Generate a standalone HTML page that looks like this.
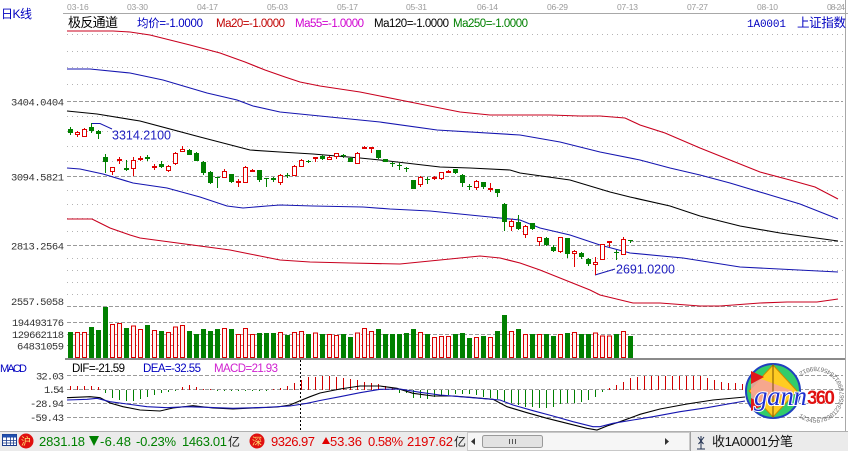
<!DOCTYPE html>
<html><head><meta charset="utf-8"><style>
html,body{margin:0;padding:0;background:#fff;width:848px;height:451px;overflow:hidden}
svg{display:block}
</style></head><body>
<svg width="848" height="451" viewBox="0 0 848 451" xmlns="http://www.w3.org/2000/svg" font-family="'Liberation Sans','Noto Sans CJK SC',sans-serif">
<rect width="848" height="451" fill="#fff"/>
<!-- top separator -->
<line x1="63" y1="13.5" x2="848" y2="13.5" stroke="#a8a8a8"/>
<line x1="845.5" y1="0" x2="845.5" y2="431" stroke="#a8a8a8"/>
<!-- date labels -->
<g font-size="8.5" fill="#9a9a9a">
<text x="67" y="10">03-16</text>
<text x="127" y="10" textLength="21">03-30</text>
<text x="197" y="10" textLength="21">04-17</text>
<text x="267" y="10" textLength="21">05-03</text>
<text x="337" y="10" textLength="21">05-17</text>
<text x="406" y="10" textLength="21">05-31</text>
<text x="477" y="10" textLength="21">06-14</text>
<text x="547" y="10" textLength="21">06-29</text>
<text x="617" y="10" textLength="21">07-13</text>
<text x="687" y="10" textLength="21">07-27</text>
<text x="757" y="10" textLength="21">08-10</text>
<text x="827" y="10" textLength="18">08-24</text>
</g>
<!-- header -->
<text x="1" y="18" font-size="12" fill="#0000c0" textLength="31">日K线</text>
<text x="68" y="27" font-size="13" fill="#000" textLength="50">极反通道</text>
<g font-size="11.5">
<text x="137" y="27" fill="#0000c0" textLength="66">均价=-1.0000</text>
<text x="216" y="27" fill="#c00000" textLength="69">Ma20=-1.0000</text>
<text x="295" y="27" fill="#d000d0" textLength="69">Ma55=-1.0000</text>
<text x="374" y="27" fill="#000" textLength="75">Ma120=-1.0000</text>
<text x="453" y="27" fill="#008000" textLength="75">Ma250=-1.0000</text>
</g>
<text x="747" y="27" font-family="'Liberation Mono',monospace" font-size="11" fill="#0000c0" textLength="39">1A0001</text>
<text x="797" y="27" font-size="12.5" fill="#0000c0" textLength="49">上证指数</text>

<!-- grid dotted -->
<g stroke="#b4b4b4" stroke-dasharray="1 4">
<path d="M67 34.5H843M67 51.5H843M67 67.5H843M67 84.5H843M67 116.5H843M67 131.5H843M67 146.5H843M67 161.5H843M67 190.5H843M67 204.5H843M67 218.5H843M67 231.5H843M67 258.5H843M67 270.5H843M67 282.5H843M67 294.5H843"/>
</g>
<!-- grid dashed -->
<g stroke="#9a9a9a" stroke-dasharray="4 2">
<path d="M67 101.5H843M67 176.5H843M67 245.5H843M67 306.5H843M67 322.5H843M67 334.5H843M67 345.5H843M67 375.5H843M67 389.5H843M67 403.5H843M67 417.5H843"/>
<path d="M630 241.5H843"/>
</g>

<!-- axis labels -->
<g font-family="'Liberation Mono',monospace" font-size="10.5" fill="#333" text-anchor="end">
<text x="64" y="105.5" textLength="53">3404.0404</text>
<text x="64" y="180.5" textLength="53">3094.5821</text>
<text x="64" y="249.5" textLength="53">2813.2564</text>
<text x="64" y="305" textLength="53">2557.5058</text>
<text x="64" y="326" textLength="52">194493176</text>
<text x="64" y="338" textLength="52">129662118</text>
<text x="64" y="349.5" textLength="47">64831059</text>
<text x="64" y="379.5" textLength="28">32.03</text>
<text x="64" y="393" textLength="20">1.54</text>
<text x="64" y="407" textLength="34">-28.94</text>
<text x="64" y="421" textLength="34">-59.43</text>
</g>

<!-- channel lines -->
<g fill="none" stroke-width="1.1">
<polyline stroke="#c8001e" points="67,31 113,31 130,32 150,35 170,40 190,45 220,53 245,62 265,70 285,77 300,82 320,86 340,89 360,92 380,96 400,100 430,106 460,112 490,115 520,115 550,115 580,116 600,116 625,118 640,125 665,133 700,148 730,160 760,172 790,180 815,187 838,199"/>
<polyline stroke="#1515b0" points="67,69 90,69 130,73 163,80 207,93 237,100 253,106 280,112 330,117 380,122 437,130 520,135 560,142 600,152 640,160 670,168 700,175 730,183 770,195 800,204 838,219"/>
<polyline stroke="#000" points="67,111 97,114 140,121 200,137 250,150 280,152 313,154 360,158 380,160 440,167 470,168 510,170 520,173 570,180 610,192 630,197 670,206 700,216 740,226 780,233 838,241"/>
<polyline stroke="#1515b0" points="67,168 80,169 103,174 133,183 167,188 200,197 227,206 243,208 267,206 280,205 313,206 363,207 390,209 430,211 470,215 490,217 520,220 540,228 570,235 600,245 630,253 683,258 740,267 838,272"/>
<polyline stroke="#c8001e" points="67,219 92,219 100,223 110,228 130,235 140,238 170,242 200,246 230,250 260,256 280,260 310,262 350,263 400,264 440,260 470,257 480,256 500,258 520,263 540,270 560,278 590,290 600,295 633,303 660,303 700,306 720,306 760,303 787,302 817,302 838,299"/>
</g>

<!-- annotations -->
<polyline fill="none" stroke="#1515b0" points="92,123.5 100,123.5 112,129"/>
<text x="112" y="139.5" font-size="12.5" fill="#2020c0" textLength="59">3314.2100</text>
<polyline fill="none" stroke="#1515b0" points="595,275 615,269"/>
<text x="616" y="273.5" font-size="12.5" fill="#2020c0" textLength="59">2691.0200</text>

<!-- candles green -->
<path fill="none" stroke="#008000" d="M70.5 127V135M91.5 123V133M98.5 130V139M105.5 154V173M126.5 160V171M147.5 155V161M161.5 161V168M189.5 149V155M196.5 152V161M203.5 161V175M210.5 171V184M217.5 177V188M231.5 174V183M259.5 170V182M266.5 178V187M273.5 177V182M287.5 173V178M308.5 160V163M322.5 155V160M343.5 154V158M350.5 157V162M378.5 150V159M385.5 159V162M392.5 162V167M399.5 163V170M406.5 167V172M413.5 180V189M427.5 177V184M455.5 169V174M462.5 174V187M469.5 184V190M483.5 182V189M497.5 189V197M504.5 203V231M518.5 215V230M532.5 223V230M546.5 237V246M553.5 245V252M567.5 238V258M581.5 252V259M588.5 258V266M616.5 250V260M630.5 240V243"/>
<path fill="#008000" d="M68 129h5V133h-5zM89 127h5V131h-5zM96 131h5V134h-5zM103 157h5V162h-5zM124 168h5V170h-5zM145 157h5V159h-5zM159 164h5V167h-5zM187 150h5V155h-5zM194 153h5V161h-5zM201 162h5V173h-5zM208 172h5V183h-5zM215 177h5V178h-5zM229 174h5V182h-5zM257 170h5V180h-5zM264 178h5V179h-5zM271 178h5V180h-5zM285 175h5V176h-5zM306 161h5V162h-5zM320 156h5V159h-5zM341 155h5V156h-5zM348 158h5V162h-5zM376 150h5V158h-5zM383 159h5V162h-5zM390 163h5V164h-5zM397 165h5V166h-5zM404 168h5V169h-5zM411 180h5V189h-5zM425 179h5V180h-5zM453 169h5V173h-5zM460 175h5V183h-5zM467 186h5V187h-5zM481 182h5V187h-5zM495 189h5V193h-5zM502 204h5V222h-5zM516 222h5V229h-5zM530 223h5V229h-5zM544 238h5V245h-5zM551 247h5V251h-5zM565 238h5V254h-5zM579 253h5V257h-5zM586 259h5V264h-5zM614 252h5V253h-5zM628 240h5V241h-5z"/>
<!-- candles red -->
<path fill="none" stroke="#e00000" d="M77.5 131V137M84.5 128V137M112.5 167V175M119.5 157V164M133.5 157V176M140.5 156V161M154.5 164V170M168.5 165V172M175.5 152V165M182.5 146V151M224.5 169V178M238.5 179V187M245.5 166V183M252.5 169V172M280.5 174V185M294.5 165V176M301.5 159V167M315.5 157V162M329.5 156V160M336.5 153V159M357.5 152V163M364.5 146V149M371.5 147V153M420.5 176V187M434.5 176V180M441.5 172V180M448.5 170V173M476.5 180V190M490.5 183V192M511.5 219V231M525.5 225V238M539.5 237V246M560.5 237V253M574.5 250V267M595.5 257V275M602.5 244V260M609.5 241V247M623.5 237V255"/>
<path fill="#fff" stroke="#e00000" d="M75.5 132.5h4V134.5h-4zM82.5 129.5h4V136.5h-4zM110.5 167.5h4V171.5h-4zM117.5 159.5h4V160.5h-4zM131.5 160.5h4V168.5h-4zM138.5 158.5h4V159.5h-4zM152.5 166.5h4V167.5h-4zM166.5 166.5h4V170.5h-4zM173.5 153.5h4V163.5h-4zM180.5 149.5h4V151.5h-4zM222.5 171.5h4V177.5h-4zM236.5 181.5h4V182.5h-4zM243.5 167.5h4V182.5h-4zM250.5 170.5h4V171.5h-4zM278.5 175.5h4V182.5h-4zM292.5 166.5h4V175.5h-4zM299.5 160.5h4V166.5h-4zM313.5 157.5h4V158.5h-4zM327.5 157.5h4V159.5h-4zM334.5 153.5h4V156.5h-4zM355.5 153.5h4V163.5h-4zM362.5 147.5h4V148.5h-4zM369.5 147.5h4V148.5h-4zM418.5 177.5h4V184.5h-4zM432.5 177.5h4V178.5h-4zM439.5 172.5h4V178.5h-4zM446.5 171.5h4V172.5h-4zM474.5 181.5h4V187.5h-4zM488.5 188.5h4V189.5h-4zM509.5 221.5h4V226.5h-4zM523.5 226.5h4V234.5h-4zM537.5 237.5h4V241.5h-4zM558.5 237.5h4V251.5h-4zM572.5 251.5h4V253.5h-4zM593.5 262.5h4V264.5h-4zM600.5 244.5h4V259.5h-4zM607.5 241.5h4V242.5h-4zM621.5 239.5h4V254.5h-4z"/>

<!-- volume -->
<path fill="#008000" d="M68 332h5V358h-5zM89 327h5V358h-5zM96 330h5V358h-5zM103 307h5V358h-5zM124 328h5V358h-5zM145 325h5V358h-5zM159 331h5V358h-5zM187 331h5V358h-5zM194 334h5V358h-5zM201 329h5V358h-5zM208 331h5V358h-5zM215 329h5V358h-5zM229 329h5V358h-5zM257 333h5V358h-5zM264 333h5V358h-5zM271 333h5V358h-5zM285 335h5V358h-5zM306 334h5V358h-5zM320 334h5V358h-5zM341 334h5V358h-5zM348 337h5V358h-5zM376 329h5V358h-5zM383 334h5V358h-5zM390 334h5V358h-5zM397 334h5V358h-5zM404 333h5V358h-5zM411 329h5V358h-5zM425 334h5V358h-5zM453 334h5V358h-5zM460 333h5V358h-5zM467 338h5V358h-5zM481 336h5V358h-5zM495 331h5V358h-5zM502 315h5V358h-5zM516 329h5V358h-5zM530 334h5V358h-5zM544 334h5V358h-5zM551 336h5V358h-5zM565 333h5V358h-5zM579 334h5V358h-5zM586 334h5V358h-5zM614 334h5V358h-5zM628 336h5V358h-5z"/>
<path fill="#fff0f0" stroke="#d80000" d="M75.5 332.5h4V357.5h-4zM82.5 332.5h4V357.5h-4zM110.5 324.5h4V357.5h-4zM117.5 323.5h4V357.5h-4zM131.5 326h4V357.5h-4zM138.5 329.5h4V357.5h-4zM152.5 330.5h4V357.5h-4zM166.5 332.5h4V357.5h-4zM173.5 327h4V357.5h-4zM180.5 325.5h4V357.5h-4zM222.5 328.5h4V357.5h-4zM236.5 334.5h4V357.5h-4zM243.5 328.5h4V357.5h-4zM250.5 334.5h4V357.5h-4zM278.5 332.5h4V357.5h-4zM292.5 332.5h4V357.5h-4zM299.5 331.5h4V357.5h-4zM313.5 333h4V357.5h-4zM327.5 334.5h4V357.5h-4zM334.5 335.5h4V357.5h-4zM355.5 333h4V357.5h-4zM362.5 328.5h4V357.5h-4zM369.5 331.5h4V357.5h-4zM418.5 332.5h4V357.5h-4zM432.5 337.5h4V357.5h-4zM439.5 336.5h4V357.5h-4zM446.5 336.5h4V357.5h-4zM474.5 337.5h4V357.5h-4zM488.5 337.5h4V357.5h-4zM509.5 331.5h4V357.5h-4zM523.5 334.5h4V357.5h-4zM537.5 334.5h4V357.5h-4zM558.5 334.5h4V357.5h-4zM572.5 332.5h4V357.5h-4zM593.5 333h4V357.5h-4zM600.5 336h4V357.5h-4zM607.5 336h4V357.5h-4zM621.5 331.5h4V357.5h-4z"/>
<!-- separator -->
<rect x="65" y="358" width="780" height="2" fill="#8a8a8a"/>

<!-- MACD texts -->
<text x="0" y="372" font-size="11" fill="#0000c0" textLength="27">MACD</text>
<text x="72" y="372" font-size="11.5" fill="#000" textLength="53">DIF=-21.59</text>
<text x="143" y="372" font-size="11.5" fill="#0000c0" textLength="58">DEA=-32.55</text>
<text x="214" y="372" font-size="11.5" fill="#d020d0" textLength="64">MACD=21.93</text>

<!-- MACD histogram -->
<path fill="none" stroke="#d00000" d="M70.5 390V386M77.5 390V386M84.5 390V386M91.5 390V386M98.5 390V387M182.5 390V387M189.5 390V385M196.5 390V387M203.5 390V389M210.5 390V389M273.5 390V389M280.5 390V388M287.5 390V386M294.5 390V383M301.5 390V380M308.5 390V377M315.5 390V377M322.5 390V376M329.5 390V376M336.5 390V377M343.5 390V378M350.5 390V379M357.5 390V380M364.5 390V382M371.5 390V383M378.5 390V384M385.5 390V386M392.5 390V388M609.5 390V388M616.5 390V385M623.5 390V382M630.5 390V378M637.5 390V377M644.5 390V376M651.5 390V376M658.5 390V376M665.5 390V376M672.5 390V376M679.5 390V376M686.5 390V376M693.5 390V376M700.5 390V376M707.5 390V378M714.5 390V380M721.5 390V382M728.5 390V383M735.5 390V383M742.5 390V384"/>
<path fill="none" stroke="#008000" d="M105.5 390V393M112.5 390V398M119.5 390V400M126.5 390V401M133.5 390V401M140.5 390V399M147.5 390V397M154.5 390V395M161.5 390V393M168.5 390V392M175.5 390V391M217.5 390V391M224.5 390V391M231.5 390V391M238.5 390V391M245.5 390V391M252.5 390V391M259.5 390V391M266.5 390V391M399.5 390V393M406.5 390V393M413.5 390V398M420.5 390V398M427.5 390V399M434.5 390V397M441.5 390V396M448.5 390V395M455.5 390V394M462.5 390V394M469.5 390V394M476.5 390V395M483.5 390V397M490.5 390V398M497.5 390V399M504.5 390V402M511.5 390V403M518.5 390V405M525.5 390V407M532.5 390V407M539.5 390V408M546.5 390V408M553.5 390V407M560.5 390V404M567.5 390V403M574.5 390V403M581.5 390V402M588.5 390V400M595.5 390V397M602.5 390V392"/>
<!-- MACD lines -->
<polyline fill="none" stroke="#000" stroke-width="1.1" points="67,397.7 90,396.7 100,397.7 110,403 123,406.7 140,410 160,411 173,408 193,405.7 213,408 233,409 253,408 277,407 290,405 300,400.7 310,396.7 320,393 340,389 360,386 380,386 397,388.3 413,393.3 433,396 453,396 470,397.3 493,399.3 507,406.7 527,412.7 547,418.3 567,423.3 587,428.3 597,430 607,426 620,421.7 640,414.3 660,409 687,404 713,400 745,397"/>
<polyline fill="none" stroke="#1515b0" stroke-width="1.1" points="67,400 87,399.3 97,398.3 110,401.7 127,404 147,406.7 167,407.7 187,406.7 207,407.3 233,408.3 267,407.3 290,406 307,403.3 320,400.5 340,396.7 360,392.7 380,389.3 400,389 420,392.3 440,395 460,396.7 480,398.3 500,400 513,405 533,410.7 553,416 573,421.7 593,426.7 600,426.7 613,423.3 633,420 653,416.7 680,411.7 707,407.7 745,401"/>
<!-- cursor line -->
<line x1="300.5" y1="360" x2="300.5" y2="431" stroke="#000" stroke-dasharray="2 2"/>

<!-- logo -->
<g>
<circle cx="773" cy="391" r="27" fill="#33cc6a" stroke="#2040c0" stroke-width="2"/>
<polygon points="773,365 797,391 773,417 749,391" fill="#ffcc22" stroke="#c88a00"/>
<polygon points="751,375 793,391 751,407" fill="#f4a0a0" opacity="0.85"/>
<polygon points="751,371 764,377 751,384" fill="#e01818"/>
<polygon points="751,398 764,405 751,411" fill="#e01818"/>
<line x1="773" y1="365" x2="773" y2="417" stroke="#7a5000"/>
<path id="ring" d="M798.3 416.5 A28 28 0 1 0 800.1 371.7" fill="none"/>
<text font-family="'Liberation Mono',monospace" font-size="6.5" fill="#707070"><textPath href="#ring">12345678901234567890123456789012345</textPath></text>
<text x="754" y="405" font-family="'Liberation Serif',serif" font-style="italic" font-size="27" fill="#1e2fd0" stroke="#fff" stroke-width="2" paint-order="stroke" textLength="53">gann</text>
<text x="807" y="404" font-family="'Liberation Sans',sans-serif" font-weight="bold" font-size="19" fill="#e01010" stroke="#fff" stroke-width="1.5" paint-order="stroke" textLength="28">360</text>
</g>

<!-- status bar -->
<rect x="0" y="431" width="848" height="20" fill="#ebebeb"/>
<line x1="0" y1="431.5" x2="848" y2="431.5" stroke="#b0b0b0"/>
<g>
<rect x="2.5" y="434.5" width="14" height="11" fill="#fff" stroke="#1c3c8c"/>
<rect x="2.5" y="434.5" width="14" height="3" fill="#2050b0"/>
<path d="M6.5 437V445M10.5 437V445M13.5 437V445M3 440.5H16M3 443H16" stroke="#1c3c8c" stroke-width="0.8"/>
</g>
<circle cx="26" cy="441" r="7.5" fill="#e01010"/>
<text x="26" y="445" font-size="10" fill="#ffe070" text-anchor="middle">沪</text>
<g font-size="13" fill="#008000">
<text x="39" y="446" textLength="46">2831.18</text>
<polygon points="89,436 99,436 94,446" fill="#008000"/>
<text x="100" y="446" textLength="31">-6.48</text>
<text x="136" y="446" textLength="40">-0.23%</text>
<text x="182" y="446" textLength="45">1463.01</text>
</g>
<text x="228" y="446" font-size="12" fill="#222" textLength="12">亿</text>
<circle cx="257" cy="441" r="7.5" fill="#e01010"/>
<text x="257" y="445" font-size="10" fill="#ffe070" text-anchor="middle">深</text>
<g font-size="13" fill="#e00000">
<text x="271" y="446" textLength="44">9326.97</text>
<polygon points="322,444 330,444 326,437" fill="#e00000"/>
<text x="330" y="446" textLength="32">53.36</text>
<text x="368" y="446" textLength="35">0.58%</text>
<text x="407" y="446" textLength="46">2197.62</text>
</g>
<text x="454" y="446" font-size="12" fill="#222" textLength="11">亿</text>
<!-- scrollbar -->
<rect x="467.5" y="432.5" width="222" height="18" fill="#f6f6f6" stroke="#c8c8c8"/>
<polygon points="475,438 475,445 471,441.5" fill="#333"/>
<rect x="482.5" y="435.5" width="60" height="12" rx="2" fill="#e2e2e2" stroke="#9a9a9a"/>
<path d="M509.5 439V444M512.5 439V444M515.5 439V444" stroke="#555"/>
<polygon points="665,438 665,445 669,441.5" fill="#333"/>
<line x1="690.5" y1="432" x2="690.5" y2="451" stroke="#a0a0a0"/>
<!-- antenna -->
<path d="M701 436V449M697 449H705M698 437L701 441L704 437M698.5 444L701 441L703.5 444" stroke="#203050" fill="none"/>
<text x="712" y="446" font-size="13" fill="#111" textLength="81">收1A0001分笔</text>
</svg>
</body></html>
